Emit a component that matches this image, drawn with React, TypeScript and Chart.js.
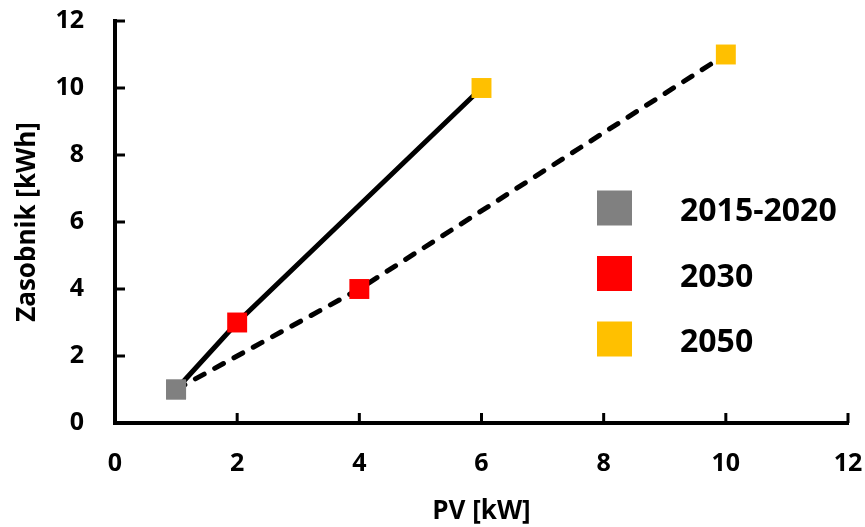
import React, { useEffect, useRef } from "react";
import { Chart, registerables } from "chart.js";

Chart.register(...registerables);

const yearLabels = ["2015-2020", "2030", "2050"];
const yearColors = ["#808080", "#FF0000", "#FFC000"];

// Solid series
const solidX = [1, 2, 6];
const solidY = [1, 3, 10];
const solidYear = [0, 1, 2];

// Dashed series
const dashedX = [1, 4, 10];
const dashedY = [1, 4, 11];
const dashedYear = [0, 1, 2];

const axisTicks = [0, 2, 4, 6, 8, 10, 12];

const FONT = "'Open Sans', 'DejaVu Sans', sans-serif";

const toPts = (xs: number[], ys: number[]) => xs.map((x, i) => ({ x, y: ys[i] }));

const inwardTicks = {
  id: "inwardTicks",
  afterDatasetsDraw(chart: any) {
    const { ctx, chartArea, scales } = chart;
    const x = scales.x;
    const y = scales.y;
    ctx.save();
    ctx.strokeStyle = "#000";
    ctx.lineWidth = 3;
    ctx.lineCap = "butt";
    axisTicks.forEach((v) => {
      const px = x.getPixelForValue(v);
      ctx.beginPath();
      ctx.moveTo(px, chartArea.bottom);
      ctx.lineTo(px, chartArea.bottom - 10);
      ctx.stroke();
      const py = y.getPixelForValue(v);
      ctx.beginPath();
      ctx.moveTo(chartArea.left, py);
      ctx.lineTo(chartArea.left + 10, py);
      ctx.stroke();
    });
    ctx.restore();
  },
};

const customLegend = {
  id: "customLegend",
  afterDraw(chart: any) {
    const { ctx } = chart;
    ctx.save();
    yearLabels.forEach((lab, i) => {
      const cy = 208 + i * 65.5;
      ctx.fillStyle = yearColors[i];
      ctx.fillRect(597, cy - 17.5, 35, 35);
      ctx.fillStyle = "#000";
      ctx.font = `bold 32px ${FONT}`;
      ctx.textBaseline = "middle";
      ctx.textAlign = "left";
      ctx.fillText(lab, 680, cy + 4);
    });
    ctx.restore();
  },
};

const noOverflow = (s: any) => {
  s.paddingTop = 0;
  s.paddingBottom = 0;
  s.paddingLeft = 0;
  s.paddingRight = 0;
};

export default function App() {
  const ref = useRef<HTMLCanvasElement | null>(null);
  useEffect(() => {
    if (!ref.current) return;
    const pointDatasets = yearLabels.map((lab, k) => ({
      type: "scatter" as const,
      label: lab,
      data: [
        ...toPts(solidX, solidY).filter((_, i) => solidYear[i] === k),
        ...toPts(dashedX, dashedY).filter((_, i) => dashedYear[i] === k),
      ],
      pointStyle: "rect" as const,
      pointRadius: 14.1,
      pointHoverRadius: 14.1,
      backgroundColor: yearColors[k],
      borderColor: yearColors[k],
      borderWidth: 0,
      showLine: false,
      order: 0,
    }));
    const chart = new Chart(ref.current, {
      type: "scatter",
      data: {
        datasets: [
          ...pointDatasets,
          {
            type: "line" as const,
            label: "solid",
            data: toPts(solidX, solidY),
            borderColor: "#000",
            borderWidth: 5,
            pointRadius: 0,
            fill: false,
            tension: 0,
            order: 1,
          },
          {
            type: "line" as const,
            label: "dashed",
            data: toPts(dashedX, dashedY),
            borderColor: "#000",
            borderWidth: 5,
            borderDash: [10, 12],
            borderCapStyle: "round",
            pointRadius: 0,
            fill: false,
            tension: 0,
            order: 1,
          },
        ] as any,
      },
      options: {
        animation: false,
        responsive: true,
        maintainAspectRatio: false,
        layout: { padding: { top: 21, right: 17, left: 0, bottom: 0 } },
        plugins: {
          legend: { display: false },
          tooltip: { enabled: false },
        },
        scales: {
          x: {
            type: "linear",
            min: 0,
            max: 12,
            afterFit: (s: any) => {
              s.height = 104;
              noOverflow(s);
            },
            ticks: {
              stepSize: 2,
              color: "#000",
              padding: 26,
              font: { family: FONT, size: 25, weight: "bold" },
            },
            grid: { display: false, drawTicks: false },
            border: { display: true, color: "#000", width: 4 },
            title: {
              display: true,
              text: "PV [kW]",
              color: "#000",
              font: { family: FONT, size: 26, weight: "bold" },
              padding: { top: 0, bottom: 0 },
            },
          },
          y: {
            type: "linear",
            min: 0,
            max: 12,
            afterFit: (s: any) => {
              s.width = 115;
              noOverflow(s);
            },
            ticks: {
              stepSize: 2,
              color: "#000",
              padding: 31,
              font: { family: FONT, size: 25, weight: "bold" },
            },
            grid: { display: false, drawTicks: false },
            border: { display: true, color: "#000", width: 4 },
            title: {
              display: true,
              text: "Zasobnik [kWh]",
              color: "#000",
              font: { family: FONT, size: 26, weight: "bold" },
              padding: { top: 12, bottom: 0 },
            },
          },
        },
      },
      plugins: [inwardTicks, customLegend],
    });
    return () => chart.destroy();
  }, []);
  return (
    <div style={{ position: "fixed", left: 0, top: 0, width: 865, height: 527, background: "#fff" }}>
      <canvas ref={ref} />
    </div>
  );
}
